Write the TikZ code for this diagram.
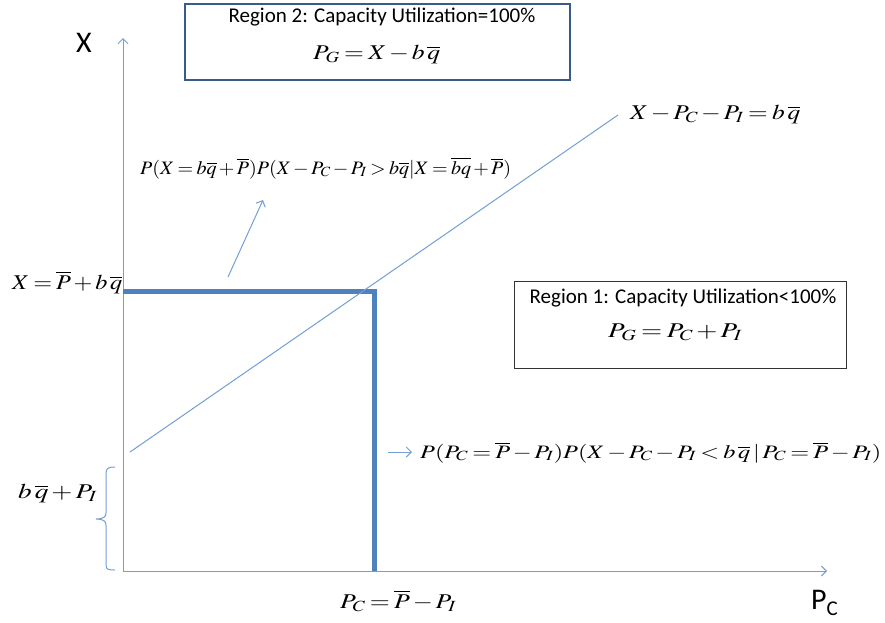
\documentclass[tikz,border=0pt]{standalone}
\usepackage{mathptmx}
\usepackage{fontspec}
\setmainfont{Liberation Serif}
\setsansfont{Carlito}
\usepackage{graphicx}
\usetikzlibrary{arrows.meta}
\definecolor{thinblue}{RGB}{116,158,214}
\definecolor{thickblue}{RGB}{79,129,189}
\definecolor{boxblue}{RGB}{59,90,140}
\newcommand{\fitw}[2]{\resizebox{#1}{\height}{#2}}
\begin{document}
\medmuskip=2mu plus 1mu
\thickmuskip=3mu plus 2mu
\begin{tikzpicture}[x=1pt,y=-1pt,
  axisln/.style={draw=thinblue,line width=1pt},
  thickln/.style={draw=thickblue,line width=5pt,line join=miter},
  chev/.style={-{Straight Barb[length=5pt,width=10pt]}},
  mathbig/.style={inner sep=0pt,anchor=base west,font=\fontsize{21}{25}\selectfont},
  mathsm/.style={inner sep=0pt,anchor=base west,font=\fontsize{19}{23}\selectfont},
  txtlbl/.style={inner sep=0pt,anchor=base,font=\sffamily\fontsize{21}{25}\selectfont},
  axlbl/.style={inner sep=0pt,anchor=base west,font=\sffamily\fontsize{30}{34}\selectfont}]
\useasboundingbox (0,0) rectangle (885,622);
\fill[white] (0,0) rectangle (885,622);
% axes
\coordinate (O) at (123,571);
\coordinate (Ytop) at (123,38);
\coordinate (Xend) at (827,571);
\draw[axisln,chev] (O) -- (Ytop);
\draw[axisln,chev] (O) -- (Xend);
\node[axlbl] (xlab) at (76,52) {X};
\node[axlbl] (pclab) at (811,609) {P\raisebox{-6pt}{\fontsize{21}{24}\selectfont C}};
% thick lines
\coordinate (A) at (123,291);
\coordinate (B) at (374,291);
\coordinate (C) at (374,571);
\draw[thickln] (A) -- (B) -- (C);
% diagonal
\coordinate (D1) at (130,452);
\coordinate (D2) at (618,115);
\draw[axisln] (D1) -- (D2);
% boxes
\node[draw=boxblue,line width=2.2pt,minimum width=385pt,minimum height=76pt,inner sep=0pt] (box2) at (377.5,42) {};
\node[draw=black!80,line width=1pt,minimum width=332pt,minimum height=87pt,inner sep=0pt] (box1) at (680,324.5) {};
\node[txtlbl] (r2t) at (382,22) {Region 2: Capacity Utilization=100\%};
\node[mathbig] (r2f) at (313,59) {\fitw{127pt}{$P_G = X - b\,\overline{q}$}};
\node[txtlbl] (r1t) at (683,303) {Region 1: Capacity Utilization<100\%};
\node[mathbig] (r1f) at (608,337) {\fitw{134pt}{$P_G = P_C + P_I$}};
% formulas
\node[mathsm] (pf1) at (140,174) {\fitw{371pt}{$P(X = b\overline{q} + \overline{P})P(X - P_C - P_I > b\overline{q}|X = \overline{bq} + \overline{P})$}};
\node[mathsm] (pf2) at (420,458) {\fitw{461pt}{$P(P_C = \overline{P} - P_I)P(X - P_C - P_I < b\,\overline{q}\,|\,P_C = \overline{P} - P_I)$}};
\node[mathbig] (lx) at (12,289) {\fitw{110pt}{$X = \overline{P} + b\,\overline{q}$}};
\node[mathbig] (ll) at (630,119) {\fitw{170pt}{$X - P_C - P_I = b\,\overline{q}$}};
\node[mathbig] (lb) at (18,498) {\fitw{79pt}{$b\,\overline{q} + P_I$}};
\node[mathbig] (lpc) at (340,608) {\fitw{116pt}{$P_C = \overline{P} - P_I$}};
% arrows
\coordinate (a1s) at (228,277);
\coordinate (a1e) at (263,200);
\draw[axisln,chev] (a1s) -- (a1e);
\coordinate (a2s) at (388,452);
\coordinate (a2e) at (412,452);
\draw[axisln,chev] (a2s) -- (a2e);
% brace
\draw[axisln] (115,467) .. controls (109,467) and (106,468) .. (106,473) -- (106,513)
  .. controls (106,517) and (103,519) .. (96,519)
  .. controls (103,519) and (106,521) .. (106,525) -- (106,565)
  .. controls (106,570) and (109,570) .. (115,570);
\end{tikzpicture}
\end{document}
